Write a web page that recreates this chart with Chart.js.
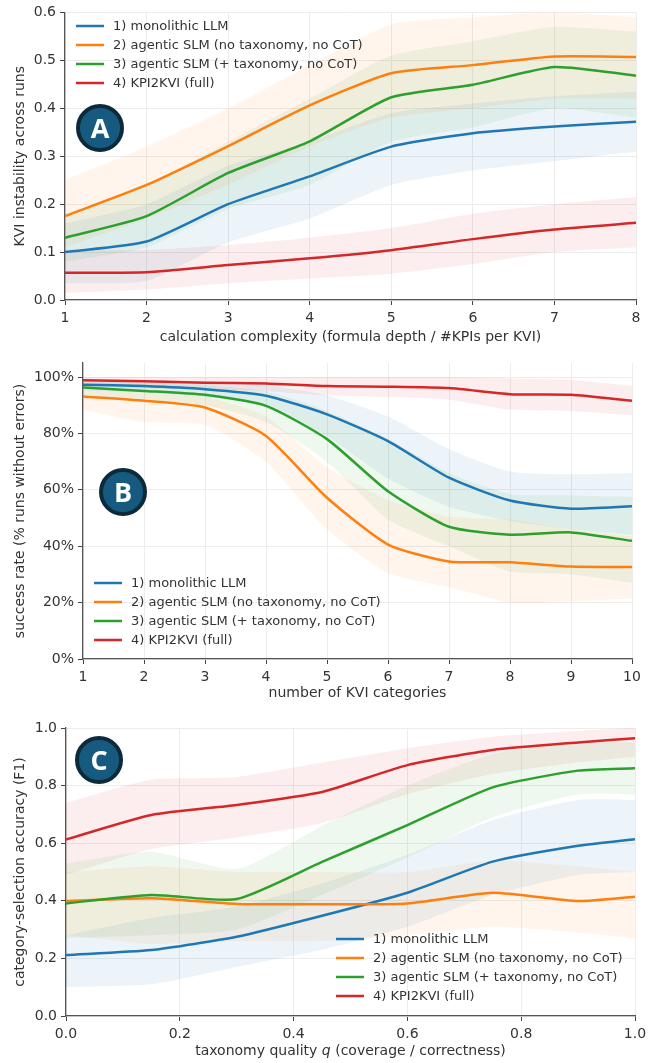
<!DOCTYPE html>
<html>
<head>
<meta charset="utf-8">
<script src="https://cdn.jsdelivr.net/npm/chart.js@4.4.1/dist/chart.umd.min.js"></script>
<style>
  body { margin: 0; background: #fff; }
  #page { position: relative; width: 668px; height: 1063px; overflow: hidden; }
  canvas { position: absolute; left: 0; }
  .badge {
    position: absolute; width: 48px; height: 48px; box-sizing: border-box;
    border: 4px solid #0c2a3a; border-radius: 50%; background: #165a80;
    color: #fff; font: 700 27px "Open Sans", sans-serif; line-height: 40px; text-align: center;
  }
  #xtitleC {
    position: absolute; left: 66px; width: 569px; top: 1041px; text-align: center;
    font: 14px "DejaVu Sans", sans-serif; color: #333; line-height: 18px;
  }
</style>
</head>
<body>
<div id="page">
  <canvas id="chartA" width="668" height="350" style="top:0px"></canvas>
  <canvas id="chartB" width="668" height="355" style="top:350px"></canvas>
  <canvas id="chartC" width="668" height="358" style="top:705px"></canvas>
  <div class="badge" style="left:76px; top:104px">A</div>
  <div class="badge" style="left:99px; top:468px">B</div>
  <div class="badge" style="left:75px; top:736px">C</div>
  <div id="xtitleC">taxonomy quality <i>q</i> (coverage / correctness)</div>
</div>
<script>

var seriesLabels = ['1) monolithic LLM', '2) agentic SLM (no taxonomy, no CoT)',
                    '3) agentic SLM (+ taxonomy, no CoT)', '4) KPI2KVI (full)'];

// A: instability vs calculation complexity
var complexity = [1, 2, 3, 4, 5, 6, 7, 8];
var instLlm  = [0.100, 0.122, 0.200, 0.258, 0.320, 0.348, 0.362, 0.372];
var instSlm  = [0.175, 0.240, 0.321, 0.406, 0.473, 0.490, 0.508, 0.507];
var instTax  = [0.130, 0.175, 0.265, 0.331, 0.423, 0.449, 0.486, 0.468];
var instFull = [0.057, 0.058, 0.073, 0.087, 0.104, 0.127, 0.147, 0.161];
var instLlmLo  = [0.035, 0.040, 0.120, 0.170, 0.240, 0.270, 0.290, 0.310];
var instLlmHi  = [0.160, 0.200, 0.280, 0.330, 0.390, 0.410, 0.425, 0.435];
var instSlmLo  = [0.110, 0.170, 0.240, 0.320, 0.380, 0.400, 0.420, 0.420];
var instSlmHi  = [0.250, 0.320, 0.400, 0.490, 0.575, 0.590, 0.600, 0.590];
var instTaxLo  = [0.080, 0.110, 0.190, 0.240, 0.330, 0.360, 0.400, 0.380];
var instTaxHi  = [0.180, 0.240, 0.330, 0.420, 0.510, 0.540, 0.570, 0.560];
var instFullLo = [0.015, 0.022, 0.035, 0.045, 0.055, 0.075, 0.100, 0.110];
var instFullHi = [0.105, 0.105, 0.115, 0.130, 0.150, 0.180, 0.200, 0.215];

// B: success rate vs number of KVI categories
var categories = [1, 2, 3, 4, 5, 6, 7, 8, 9, 10];
var succLlm  = [97.3, 96.8, 95.7, 93.4, 86.8, 77.3, 64.3, 56.2, 53.3, 54.2];
var succSlm  = [93.1, 91.6, 89.2, 79.1, 57.2, 40.6, 34.6, 34.3, 32.8, 32.6];
var succTax  = [96.3, 95.1, 93.7, 89.8, 78.0, 59.5, 46.9, 44.1, 44.9, 41.9];
var succFull = [98.9, 98.5, 98.0, 97.7, 96.8, 96.6, 96.1, 93.9, 93.7, 91.6];
var succLlmLo  = [95.0, 94.5, 93.0, 89.5, 79.0, 64.0, 54.0, 49.0, 46.0, 44.0];
var succLlmHi  = [99.0, 99.0, 98.5, 97.0, 93.5, 86.0, 74.5, 66.5, 65.5, 66.0];
var succSlmLo  = [88.5, 84.0, 83.0, 70.0, 46.0, 30.5, 25.5, 20.0, 20.5, 21.5];
var succSlmHi  = [95.0, 94.5, 93.0, 86.0, 68.0, 56.5, 50.5, 49.5, 46.0, 43.5];
var succTaxLo  = [93.0, 92.0, 90.0, 84.0, 70.0, 49.5, 40.0, 31.0, 30.0, 27.0];
var succTaxHi  = [98.5, 98.0, 97.0, 95.0, 88.0, 78.0, 66.0, 58.5, 58.0, 57.5];
var succFullLo = [96.5, 96.0, 95.5, 95.0, 93.5, 93.0, 92.0, 88.5, 88.0, 86.5];
var succFullHi = [100, 100, 100, 100, 100, 100, 100, 99.5, 99.0, 97.0];

// C: F1 vs taxonomy quality
var quality = [0, 0.15, 0.3, 0.45, 0.6, 0.75, 0.9, 1.0];
var f1Llm  = [0.212, 0.229, 0.275, 0.348, 0.428, 0.536, 0.591, 0.614];
var f1Slm  = [0.399, 0.409, 0.389, 0.388, 0.391, 0.428, 0.399, 0.414];
var f1Tax  = [0.391, 0.420, 0.406, 0.535, 0.663, 0.794, 0.852, 0.860];
var f1Full = [0.613, 0.698, 0.733, 0.778, 0.871, 0.924, 0.950, 0.964];
var f1LlmLo  = [0.10, 0.11, 0.17, 0.23, 0.31, 0.42, 0.49, 0.50];
var f1LlmHi  = [0.28, 0.34, 0.38, 0.46, 0.56, 0.68, 0.75, 0.75];
var f1SlmLo  = [0.28, 0.25, 0.26, 0.26, 0.28, 0.31, 0.29, 0.27];
var f1SlmHi  = [0.50, 0.52, 0.50, 0.50, 0.50, 0.54, 0.52, 0.50];
var f1TaxLo  = [0.27, 0.28, 0.30, 0.42, 0.55, 0.69, 0.77, 0.77];
var f1TaxHi  = [0.53, 0.57, 0.51, 0.66, 0.80, 0.91, 0.95, 0.95];
var f1FullLo = [0.49, 0.58, 0.62, 0.67, 0.77, 0.84, 0.88, 0.90];
var f1FullHi = [0.74, 0.82, 0.83, 0.88, 0.93, 0.97, 0.99, 1.00];

var lineColors = ['#1f77b4', '#ff7f0e', '#2ca02c', '#d62728'];
var bandColors = ['rgba(31,119,180,0.08)', 'rgba(255,127,14,0.08)',
                  'rgba(44,160,44,0.08)', 'rgba(214,39,40,0.08)'];

Chart.defaults.font.family = '"DejaVu Sans", sans-serif';
Chart.defaults.font.size = 14;
Chart.defaults.color = '#333';

function pts(xs, ys) {
  return xs.map(function(x, i) { return {x: x, y: ys[i]}; });
}

// legend drawn inside the plot area, no frame
var insideLegend = {
  id: 'insideLegend',
  afterDatasetsDraw: function(chart, args, opts) {
    var ctx = chart.ctx;
    ctx.save();
    ctx.font = '13px "DejaVu Sans", sans-serif';
    ctx.textBaseline = 'middle';
    ctx.lineWidth = 2.5;
    for (var i = 0; i < 4; i++) {
      var ds = chart.data.datasets[i];
      var y = opts.y + i * 19;
      ctx.strokeStyle = ds.borderColor;
      ctx.beginPath();
      ctx.moveTo(opts.x, y);
      ctx.lineTo(opts.x + 28, y);
      ctx.stroke();
      ctx.fillStyle = '#333';
      ctx.fillText(ds.label, opts.x + 37, y + 1);
    }
    ctx.restore();
  }
};

function makeChart(id, xs, lines, lows, highs, cfg) {
  var datasets = [];
  for (var i = 0; i < 4; i++) {
    datasets.push({
      label: seriesLabels[i], data: pts(xs, lines[i]),
      borderColor: lineColors[i], borderWidth: 2.5, pointRadius: 0,
      tension: 0.2, fill: false, order: 4 - i
    });
  }
  for (var j = 0; j < 4; j++) {
    datasets.push({
      label: 'lo' + j, data: pts(xs, lows[j]), borderWidth: 0, pointRadius: 0,
      tension: 0.2, fill: false, order: 10
    });
    datasets.push({
      label: 'hi' + j, data: pts(xs, highs[j]), borderWidth: 0, pointRadius: 0,
      tension: 0.2, fill: '-1', backgroundColor: bandColors[j], order: 10
    });
  }
  var h = document.getElementById(id).height;
  return new Chart(document.getElementById(id), {
    type: 'line',
    data: { datasets: datasets },
    plugins: [insideLegend],
    options: {
      responsive: false,
      animation: false,
      layout: { padding: { top: cfg.top, right: 668 - cfg.right, left: 0, bottom: 0 } },
      plugins: {
        legend: { display: false },
        tooltip: { enabled: false },
        insideLegend: cfg.legend
      },
      scales: {
        x: {
          type: 'linear', min: cfg.xmin, max: cfg.xmax,
          afterFit: function(s) { s.height = h - cfg.bottom; },
          ticks: { stepSize: cfg.xstep, padding: 5, color: '#333', callback: cfg.xfmt },
          grid: { color: '#ececec', tickLength: 5, tickColor: '#444' },
          border: { color: '#555', width: 1.3 },
          title: { display: cfg.xtitle !== '', text: cfg.xtitle, color: '#333',
                   font: { size: 14 }, padding: { top: 0, bottom: cfg.xtpad } }
        },
        y: {
          min: cfg.ymin, max: cfg.ymax,
          afterFit: function(s) { s.width = cfg.left; },
          ticks: { stepSize: cfg.ystep, padding: 4, color: '#333', includeBounds: false,
                   callback: cfg.yfmt },
          grid: { color: '#ececec', tickLength: 5, tickColor: '#444' },
          border: { color: '#555', width: 1.3 },
          title: { display: true, text: cfg.ytitle, color: '#333',
                   font: { size: 14 }, padding: { top: 12, bottom: 0 } }
        }
      }
    }
  });
}

var fmt1 = function(v) { return v.toFixed(1); };

makeChart('chartA', complexity,
  [instLlm, instSlm, instTax, instFull],
  [instLlmLo, instSlmLo, instTaxLo, instFullLo],
  [instLlmHi, instSlmHi, instTaxHi, instFullHi],
  { top: 10, bottom: 300, left: 65, right: 636,
    xmin: 1, xmax: 8, xstep: 1, xfmt: function(v) { return v; },
    ymin: 0, ymax: 0.6, ystep: 0.1, yfmt: fmt1,
    xtitle: 'calculation complexity (formula depth / #KPIs per KVI)', xtpad: 4,
    ytitle: 'KVI instability across runs',
    legend: { x: 76, y: 26 } });

makeChart('chartB', categories,
  [succLlm, succSlm, succTax, succFull],
  [succLlmLo, succSlmLo, succTaxLo, succFullLo],
  [succLlmHi, succSlmHi, succTaxHi, succFullHi],
  { top: 13, bottom: 309, left: 83, right: 632,
    xmin: 1, xmax: 10, xstep: 1, xfmt: function(v) { return v; },
    ymin: 0, ymax: 105, ystep: 20, yfmt: function(v) { return v + '%'; },
    xtitle: 'number of KVI categories', xtpad: 3,
    ytitle: 'success rate (% runs without errors)',
    legend: { x: 94, y: 233 } });

makeChart('chartC', quality,
  [f1Llm, f1Slm, f1Tax, f1Full],
  [f1LlmLo, f1SlmLo, f1TaxLo, f1FullLo],
  [f1LlmHi, f1SlmHi, f1TaxHi, f1FullHi],
  { top: 23, bottom: 311, left: 66, right: 635,
    xmin: 0, xmax: 1, xstep: 0.2, xfmt: fmt1,
    ymin: 0, ymax: 1, ystep: 0.2, yfmt: fmt1,
    xtitle: '', xtpad: 0,
    ytitle: 'category-selection accuracy (F1)',
    legend: { x: 336, y: 234 } });
</script>
</body>
</html>
